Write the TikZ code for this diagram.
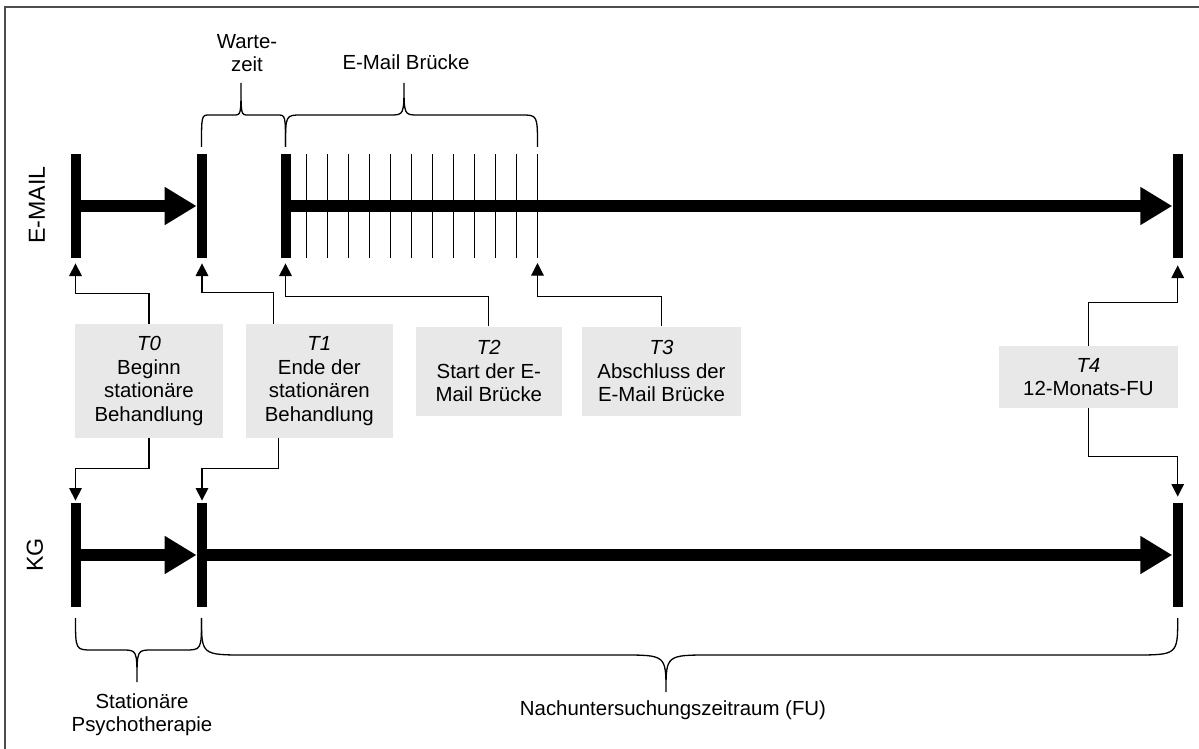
\documentclass[tikz,border=0pt]{standalone}
\usepackage{fontspec}
\setmainfont{Liberation Sans}
\usepackage{tikz}
\usetikzlibrary{arrows.meta,calc,positioning}

\definecolor{kastengrau}{RGB}{232,232,232}
\definecolor{rahmengrau}{RGB}{77,77,77}

% Klammer: x1, x2, xSpitze, yEnde, yMitte, ySpitze, rEnde, rSpitze
\newcommand{\klammer}[8]{%
\draw[klammerlinie] (#1,#4) .. controls (#1,#5) .. (#1+#7,#5) -- (#3-#8,#5)
  .. controls (#3,#5) .. (#3,#6) .. controls (#3,#5) .. (#3+#8,#5)
  -- (#2-#7,#5) .. controls (#2,#5) .. (#2,#4);}

\begin{document}
\begin{tikzpicture}[x=0.5pt,y=-0.5pt,
  font=\fontsize{10.2}{11.7}\selectfont,
  gruppe/.style={rotate=90, font=\fontsize{11.6}{13}\selectfont},
  balken/.style={fill=black, inner sep=0pt, minimum width=5pt, minimum height=52pt},
  zeitachse/.style={line width=5.6pt, -{Triangle[length=16pt,width=18pt]}},
  strich/.style={line width=0.5pt},
  verbinder/.style={line width=0.6pt, -{Triangle[length=6.3pt,width=6.3pt]}},
  kasten/.style={fill=kastengrau, inner sep=0pt, align=center},
  klammerlinie/.style={line width=0.65pt}]

\useasboundingbox (0,0) rectangle (1199,749);
\draw[rahmengrau, line width=1pt] (5.3,749) -- (5.3,6.7) -- (1199,6.7);

% Zeitachse E-MAIL
\node[gruppe] (email) at (37,205) {E-MAIL};
\node[balken] (e0) at (75.5,206) {};
\node[balken] (e1) at (202,206) {};
\node[balken] (e2) at (285.5,206) {};
\node[balken] (e4) at (1177.7,206) {};
\foreach \i in {1,...,12}
  \draw[strich] (285.5+\i*21.0,154) -- ++(0,104);
\coordinate (e3) at (537.5,258);
\draw[zeitachse] (e0.center) -- (e1.west);
\draw[zeitachse] (e2.center) -- (e4.west);

% Zeitachse KG
\node[gruppe] (kg) at (35,555) {KG};
\node[balken] (k0) at (75.5,555) {};
\node[balken] (k1) at (202,555) {};
\node[balken] (k4) at (1177.7,555) {};
\draw[zeitachse] (k0.center) -- (k1.west);
\draw[zeitachse] (k1.center) -- (k4.west);

% Messzeitpunkte
\node[kasten, minimum width=74pt, minimum height=57pt] (t0) at (149,381)
  {\textit{T0}\\Beginn\\stationäre\\Behandlung};
\node[kasten, minimum width=73.25pt, minimum height=57pt] (t1) at (319.3,381)
  {\textit{T1}\\Ende der\\stationären\\Behandlung};
\node[kasten, minimum width=73.25pt, minimum height=44.6pt] (t2) at (488.8,371.3)
  {\textit{T2}\\Start der E-\\Mail Brücke};
\node[kasten, minimum width=79.5pt, minimum height=44.6pt] (t3) at (661.5,371.3)
  {\textit{T3}\\Abschluss der\\E-Mail Brücke};
\node[kasten, minimum width=89.3pt, minimum height=31pt] (t4) at (1088.4,377)
  {\textit{T4}\\12-Monats-FU};

\draw[verbinder] (t0.north) -- ++(0,-30) -| ($(e0.south)+(0,5)$);
\draw[verbinder] ($(t1.north west)+(28,0)$) -- ++(0,-31) -| ($(e1.south)+(0,5)$);
\draw[verbinder] (t2.north) -- ++(0,-30) -| ($(e2.south)+(0,5)$);
\draw[verbinder] (t3.north) -- ++(0,-30) -| ($(e3)+(0,5)$);
\draw[verbinder] (t4.north) -- ++(0,-43.3) -| ($(e4.south)+(0,7)$);
\draw[verbinder] (t0.south) -- ++(0,30) -| ($(k0.north)+(0,-2)$);
\draw[verbinder] ($(t1.south west)+(33,0)$) -- ++(0,30) -| ($(k1.north)+(0,-2)$);
\draw[verbinder] (t4.south) -- ++(0,47.7) -| ($(k4.north)+(0,-6)$);

% Klammern
\klammer{201.5}{285.5}{241}{147}{115}{83}{8}{7}
\klammer{285.5}{537.5}{404}{147}{115}{83}{16}{14}
\klammer{75.5}{201.5}{137}{618}{650}{682}{17}{15}
\klammer{201.5}{1177.7}{666}{618}{655}{692}{45}{45}

\node[align=center] (warte) at (247,53) {Warte-\\zeit};
\node (bruecke) at (406,62) {E-Mail Brücke};
\node[align=center] (stationaer) at (142,715) {Stationäre\\Psychotherapie};
\node (fu) at (673,710) {Nachuntersuchungszeitraum (FU)};
\end{tikzpicture}
\end{document}
